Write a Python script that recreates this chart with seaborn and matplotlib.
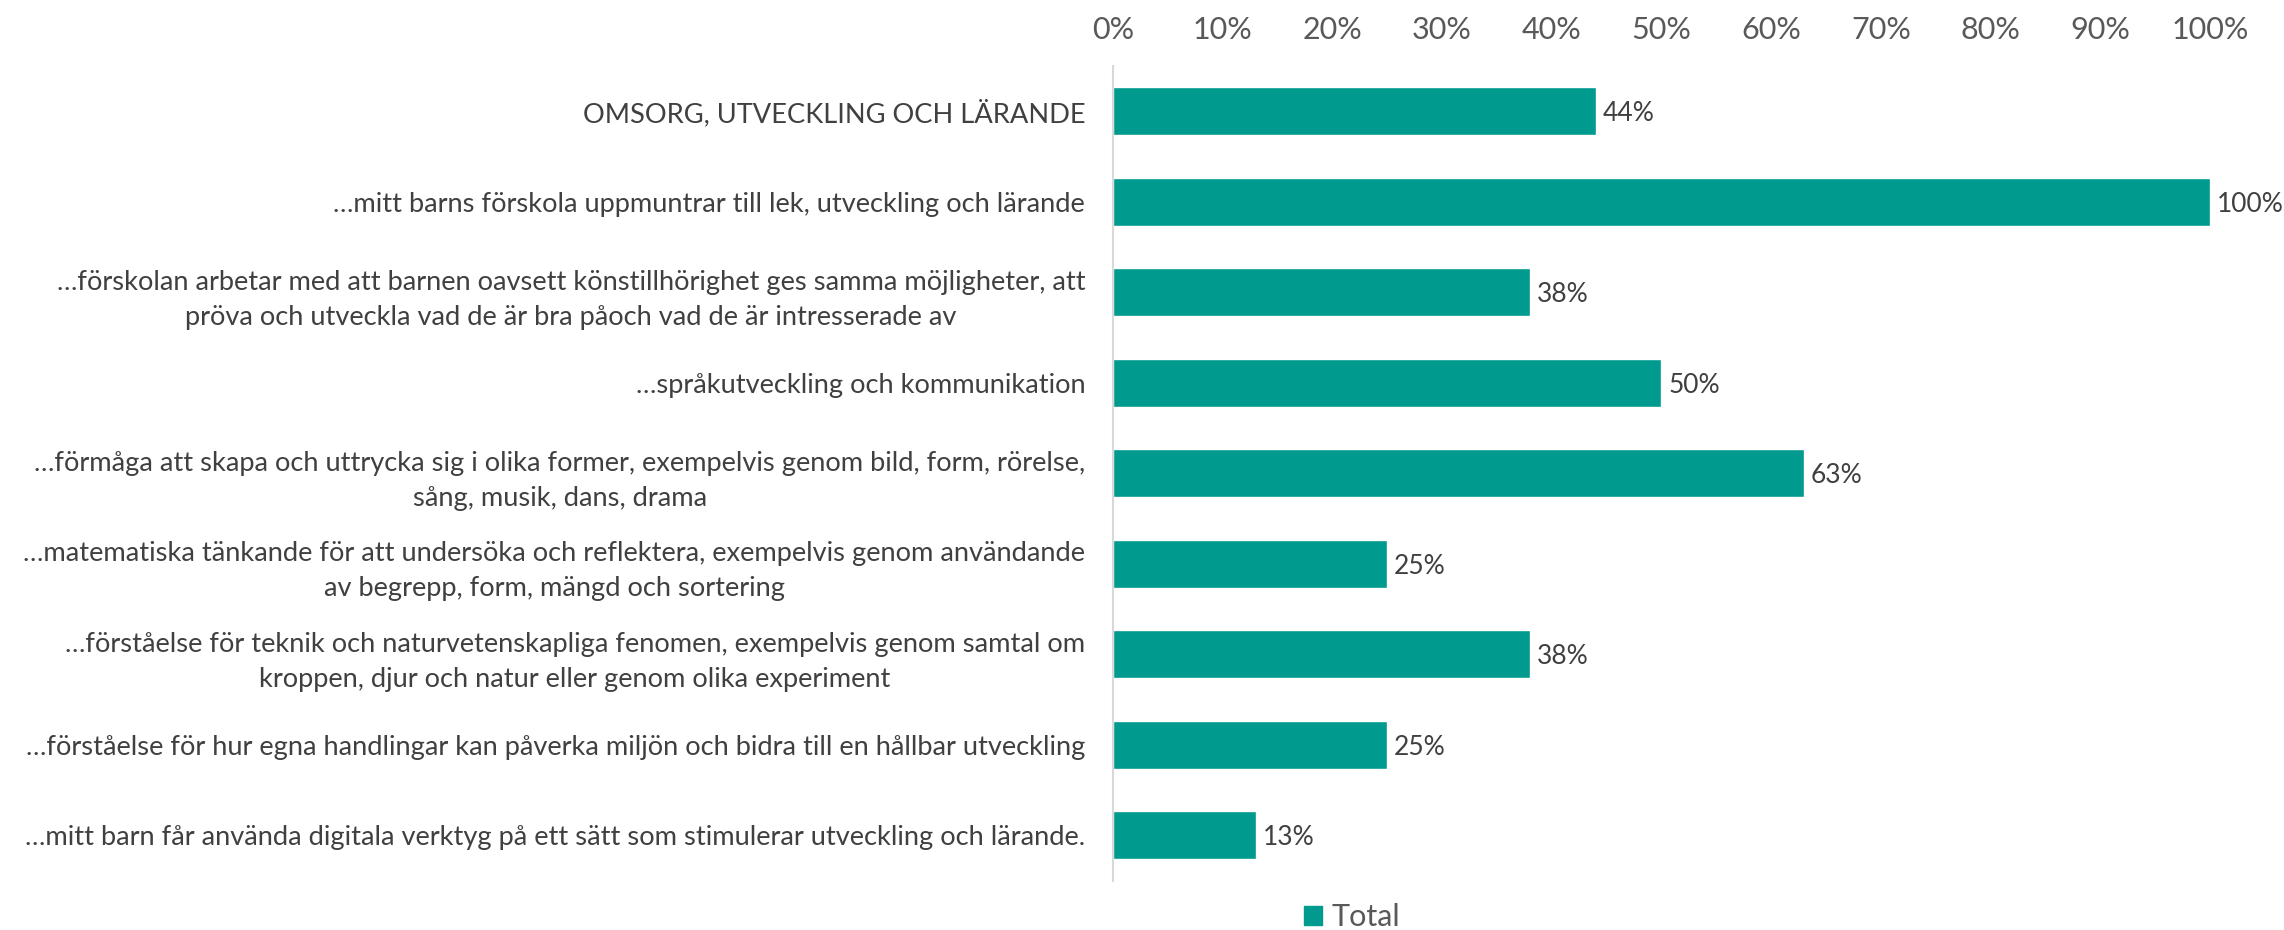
import matplotlib
matplotlib.use("Agg")
import matplotlib.pyplot as plt
import seaborn as sns
import pandas as pd
from matplotlib.patches import Patch

categories = [
    "OMSORG, UTVECKLING OCH LÄRANDE",
    "…mitt barns förskola uppmuntrar till lek, utveckling och lärande",
    "…förskolan arbetar med att barnen oavsett könstillhörighet ges samma möjligheter, att\npröva och utveckla vad de är bra påoch vad de är intresserade av",
    "…språkutveckling och kommunikation",
    "…förmåga att skapa och uttrycka sig i olika former, exempelvis genom bild, form, rörelse,\nsång, musik, dans, drama",
    "…matematiska tänkande för att undersöka och reflektera, exempelvis genom användande\nav begrepp, form, mängd och sortering",
    "…förståelse för teknik och naturvetenskapliga fenomen, exempelvis genom samtal om\nkroppen, djur och natur eller genom olika experiment",
    "…förståelse för hur egna handlingar kan påverka miljön och bidra till en hållbar utveckling",
    "…mitt barn får använda digitala verktyg på ett sätt som stimulerar utveckling och lärande.",
]
values = [44, 100, 38, 50, 63, 25, 38, 25, 13]
value_labels = ["44%", "100%", "38%", "50%", "63%", "25%", "38%", "25%", "13%"]
tick_values = [0, 10, 20, 30, 40, 50, 60, 70, 80, 90, 100]
tick_labels = ["0%", "10%", "20%", "30%", "40%", "50%", "60%", "70%", "80%", "90%", "100%"]
series_name = "Total"

BAR = "#009A8E"
sns.set_theme(style="white")
plt.rcParams["font.family"] = ["Lato", "DejaVu Sans"]

df = pd.DataFrame({"cat": categories, "val": values})

fig = plt.figure(figsize=(22.84, 9.30), dpi=100)
ax = fig.add_axes([0.4873, 0.053, 0.4803, 0.876])
sns.barplot(data=df, y="cat", x="val", orient="h", color=BAR, width=0.53,
            saturation=1, ax=ax)
ax.set_xlim(0, 100)
ax.set_ylim(len(categories) - 0.5, -0.5)
ax.set_xlabel("")
ax.set_ylabel("")
ax.xaxis.tick_top()
ax.set_xticks(tick_values)
ax.set_xticklabels(tick_labels, fontsize=22, color="#595959")
ax.tick_params(axis="x", length=0, pad=16)
ax.tick_params(axis="y", length=0, pad=20)
for lbl in ax.get_yticklabels():
    lbl.set_fontsize(19.6)
    lbl.set_color("#404040")
    lbl.set_multialignment("center")
    lbl.set_linespacing(1.5)
for s in ["top", "right", "bottom"]:
    ax.spines[s].set_visible(False)
ax.spines["left"].set_color("#D9D9D9")
ax.spines["left"].set_linewidth(1.5)

for i, (v, t) in enumerate(zip(values, value_labels)):
    ax.annotate(t, xy=(v, i), xytext=(5, 0), textcoords="offset points",
                va="center_baseline", ha="left", fontsize=19, color="#404040")

handles = [Patch(facecolor=BAR, edgecolor=BAR, label=series_name)]
fig.legend(handles=handles, loc="center", bbox_to_anchor=(0.592, 0.014),
           frameon=False, fontsize=22, handlelength=0.6, handleheight=0.6,
           handletextpad=0.3, labelcolor="#595959")

fig.savefig("out.png", dpi=100)
